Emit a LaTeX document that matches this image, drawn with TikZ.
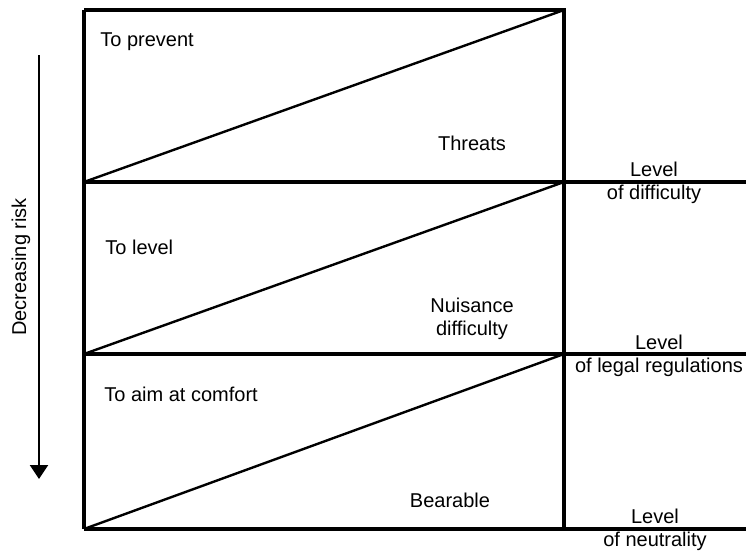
\documentclass[tikz,border=0pt]{standalone}
\usepackage{fontspec}
\setmainfont{Liberation Sans}
\usetikzlibrary{arrows.meta, positioning}

\begin{document}
\begin{tikzpicture}[x=0.5pt, y=-0.5pt, font=\fontsize{10}{11.5}\selectfont,
    frame/.style = {line width=1.7pt},
    slope/.style = {line width=1.2pt},
    label/.style = {inner sep=0pt},
    level/.style = {align=center, inner sep=0pt}]
  \useasboundingbox (0,0) rectangle (746,552);
  % corners of the three bands
  \coordinate (tl) at (84,10);
  \coordinate (tr) at (564,10);
  \coordinate (al) at (84,182);
  \coordinate (ar) at (564,182);
  \coordinate (ae) at (746,182);
  \coordinate (bl) at (84,354);
  \coordinate (br) at (564,354);
  \coordinate (be) at (746,354);
  \coordinate (cl) at (84,529);
  \coordinate (cr) at (564,529);
  \coordinate (ce) at (746,529);
  \draw[frame] (tl) -- (tr) -- (cr) (tl) -- (cl);
  \draw[frame] (al) -- (ae) (bl) -- (be) (cl) -- (ce);
  \draw[slope] (al) -- (tr) (bl) -- (ar) (cl) -- (br);
  % texts
  \node[label, anchor=west] (prevent) at (100,42) {To prevent};
  \node[label] (threats) at (472,143) {Threats};
  \node[label, anchor=west] (tolevel) at (105,247) {To level};
  \node[label, align=center] (nuisance) at (472,319) {Nuisance\\difficulty};
  \node[label, anchor=west] (comfort) at (104,394) {To aim at comfort};
  \node[label] (bearable) at (450,500) {Bearable};
  \node[level] (difficulty) at (654,183) {Level\\of difficulty};
  \node[level] (legal) at (659,356) {Level\\of legal regulations};
  \node[level] (neutral) at (655,530) {Level\\of neutrality};
  % risk arrow
  \coordinate (riskA) at (39,55);
  \coordinate (riskB) at (39,479);
  \draw[line width=1.1pt, -{Triangle[width=9pt, length=7pt]}] (riskA) -- (riskB);
  \node[label, rotate=90] (risk) at (21,267) {Decreasing risk};
\end{tikzpicture}
\end{document}
